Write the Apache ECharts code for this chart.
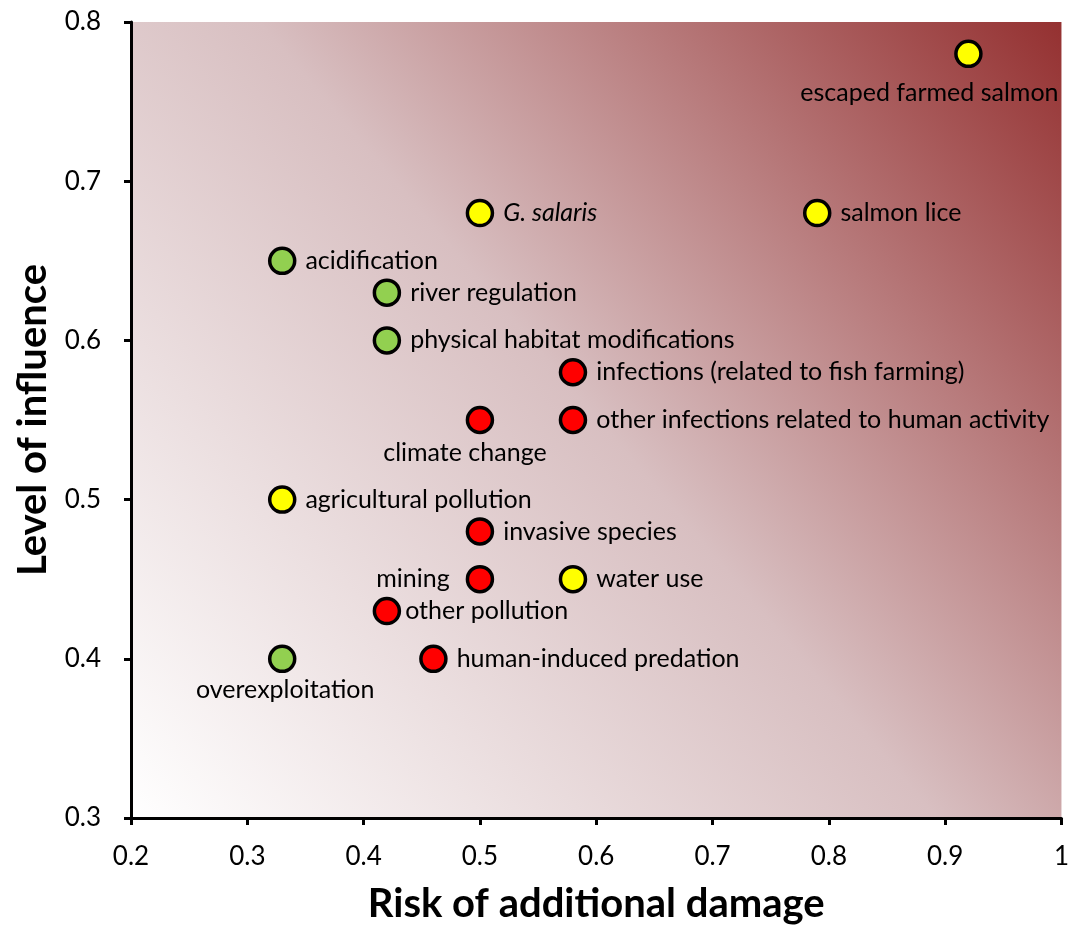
<!DOCTYPE html>
<html><head><meta charset="utf-8">
<script src="https://cdn.jsdelivr.net/npm/echarts@6/dist/echarts.min.js"></script>
<style>html,body{margin:0;padding:0;background:#fff}#c{width:1072px;height:933px}</style>
</head><body><div id="c"></div>
<script>
const names = ["escaped farmed salmon","salmon lice","G. salaris","acidification","river regulation","physical habitat modifications","infections (related to fish farming)","climate change","other infections related to human activity","agricultural pollution","invasive species","mining","water use","other pollution","human-induced predation","overexploitation"];
const risk = [0.92,0.79,0.50,0.33,0.42,0.42,0.58,0.50,0.58,0.33,0.50,0.50,0.58,0.42,0.46,0.33];
const influence = [0.78,0.68,0.68,0.65,0.63,0.60,0.58,0.55,0.55,0.50,0.48,0.45,0.45,0.43,0.40,0.40];
const group = ["yellow","yellow","yellow","green","green","green","red","red","red","yellow","red","red","yellow","red","red","green"];
const labelPos = ["bottom","right","right","right","right","right","right","bottom","right","right","right","left","right","right","right","bottom"];
const xTicks = [0.2,0.3,0.4,0.5,0.6,0.7,0.8,0.9,1];
const yTicks = [0.3,0.4,0.5,0.6,0.7,0.8];

const fills = {yellow:"#FFFF00", green:"#92D050", red:"#FF0000"};
const FONT = "Lato";
const labelOffsets = {"escaped farmed salmon":[-39,0],"climate change":[-15,0],"overexploitation":[3,0]};
const labelDist = {"escaped farmed salmon":12,"climate change":6,"overexploitation":4,"mining":16,"other pollution":4};

const data = names.map((n,i)=>{
  const pos = labelPos[i];
  return {
    name:n, value:[risk[i],influence[i]],
    itemStyle:{color:fills[group[i]]},
    label:{
      position: pos,
      distance: labelDist[n]!==undefined ? labelDist[n] : 9,
      offset: labelOffsets[n] || [0,0],
      formatter: n==="G. salaris" ? "{it|G. salaris}" : n
    }
  };
});

const G = {left:131,right:7,top:22,bottom:115};
const W = 1072, H = 933;
const fmt = v=>String(+v.toFixed(1));
const chart = echarts.init(document.getElementById('c'));
chart.setOption({
  animation:false,
  textStyle:{fontFamily:FONT},
  grid:{left:G.left,right:G.right,top:G.top,bottom:G.bottom,show:true,borderWidth:0,
    backgroundColor:new echarts.graphic.LinearGradient(G.left,H-G.bottom,W-G.right,G.top,[
      {offset:0,color:"#ffffff"},
      {offset:0.5,color:"#d8bfc1"},
      {offset:1,color:"#943030"}],true)},
  xAxis:{type:'value',min:0.2,max:1,interval:0.1,
    name:"Risk of additional damage",nameLocation:'middle',nameGap:66,
    nameTextStyle:{fontFamily:FONT,fontSize:40,fontWeight:'bold',color:'#000'},
    axisLine:{show:true,onZero:false,lineStyle:{color:'#000',width:3}},
    axisTick:{show:true,length:7,lineStyle:{color:'#000',width:3}},
    axisLabel:{fontFamily:FONT,fontSize:26,color:'#000',margin:26,formatter:fmt},
    splitLine:{show:false}},
  yAxis:{type:'value',min:0.3,max:0.8,interval:0.1,
    name:"Level of influence",nameLocation:'middle',nameGap:78,
    nameTextStyle:{fontFamily:FONT,fontSize:40,fontWeight:'bold',color:'#000'},
    axisLine:{show:true,onZero:false,lineStyle:{color:'#000',width:3}},
    axisTick:{show:true,length:7,lineStyle:{color:'#000',width:3}},
    axisLabel:{fontFamily:FONT,fontSize:26,color:'#000',margin:30,formatter:fmt},
    splitLine:{show:false}},
  series:[{
    type:'scatter',symbol:'circle',symbolSize:25,
    itemStyle:{borderColor:'#000',borderWidth:3.5,opacity:1},
    label:{show:true,fontFamily:FONT,fontSize:25,color:'#000',
      rich:{it:{fontFamily:FONT,fontSize:25,fontStyle:'italic',color:'#000'}}},
    data:data
  }]
});
</script></body></html>
